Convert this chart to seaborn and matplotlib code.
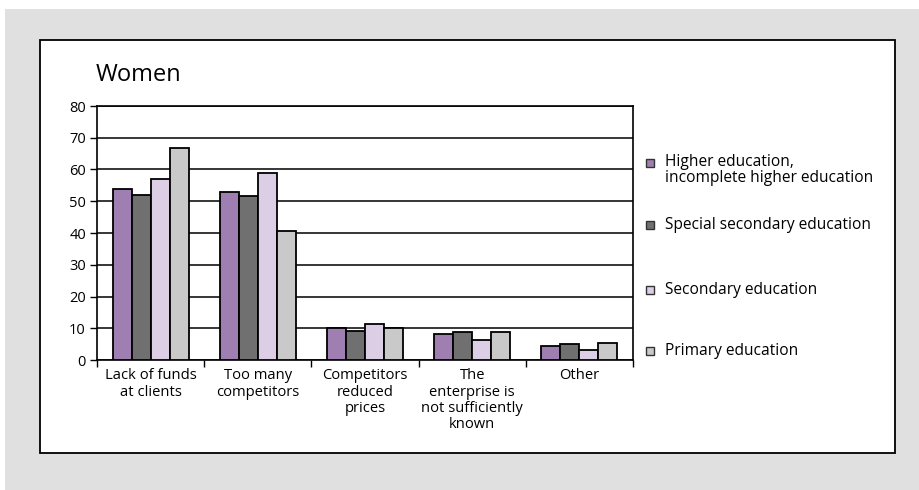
import matplotlib
matplotlib.use("Agg")
import matplotlib.pyplot as plt
from matplotlib.patches import Rectangle
import seaborn as sns
import pandas as pd

categories = [
    "Lack of funds\nat clients",
    "Too many\ncompetitors",
    "Competitors\nreduced\nprices",
    "The\nenterprise is\nnot sufficiently\nknown",
    "Other",
]
series_names = [
    "Higher education,\nincomplete higher education",
    "Special secondary education",
    "Secondary education",
    "Primary education",
]
higher = [54, 53, 10, 8.2, 4.4]
special = [52, 51.5, 9.2, 8.8, 5.1]
secondary = [57, 59, 11.4, 6.2, 3.0]
primary = [66.7, 40.5, 10, 8.8, 5.4]
y_ticks = [0, 10, 20, 30, 40, 50, 60, 70, 80]
title = "Women"

colors = ["#9f7fb1", "#707070", "#dccee4", "#c9c9c9"]

rows = []
for name, vals in zip(series_names, [higher, special, secondary, primary]):
    for cat, v in zip(categories, vals):
        rows.append({"category": cat, "group": name, "value": v})
df = pd.DataFrame(rows)

sns.set_theme(style="white")
plt.rcParams["font.family"] = ["Open Sans", "DejaVu Sans"]
plt.rcParams["text.color"] = "black"
plt.rcParams["xtick.color"] = "black"
plt.rcParams["ytick.color"] = "black"

W, H = 919, 490
fig = plt.figure(figsize=(W / 100, H / 100), dpi=100)
fig.patch.set_facecolor("#e0e0e0")


def px_rect(x0, y0, x1, y1, **kw):
    r = Rectangle((x0 / W, 1 - y1 / H), (x1 - x0) / W, (y1 - y0) / H,
                  transform=fig.transFigure, **kw)
    fig.add_artist(r)
    return r


# thin white margin on the top and left of the grey page
px_rect(-5, -5, W + 5, 9, facecolor="white", edgecolor="none", zorder=-10)
px_rect(-5, -5, 5, H + 5, facecolor="white", edgecolor="none", zorder=-10)
# white framed panel
px_rect(40, 40, 895, 453, facecolor="white", edgecolor="black", lw=1.3, zorder=-9)

left, right, top, bottom = 97, 633, 106, 360
ax = fig.add_axes([left / W, 1 - bottom / H, (right - left) / W, (bottom - top) / H])
ax.set_facecolor("white")

sns.barplot(data=df, x="category", y="value", hue="group", palette=colors,
            hue_order=series_names, order=categories, width=0.71, gap=0,
            edgecolor="black", linewidth=1.3, saturation=1, ax=ax, legend=False,
            zorder=3)

ax.set_ylim(0, 80)
ax.set_xlim(-0.5, len(categories) - 0.5)
ax.set_yticks(y_ticks)
ax.set_yticklabels([str(t) for t in y_ticks])
ax.yaxis.grid(True, color="black", lw=1.1, zorder=0)
ax.set_axisbelow(True)
ax.tick_params(axis="y", which="major", left=True, length=5, width=1, color="black",
               pad=3, labelsize=10.5, labelcolor="black")

# category labels centred under each group, ticks on group boundaries
ax.set_xticks([i - 0.5 for i in range(len(categories) + 1)])
ax.set_xticklabels([])
ax.tick_params(axis="x", which="major", bottom=True, length=5, width=1, color="black")
for i, cat in enumerate(categories):
    ax.text(i, -2.6, cat, ha="center", va="top", fontsize=10.6, linespacing=1.12,
            color="black", transform=ax.transData)
ax.set_xlabel("")
ax.set_ylabel("")

for s in ["left", "bottom", "right", "top"]:
    ax.spines[s].set_visible(True)
    ax.spines[s].set_color("black")
    ax.spines[s].set_linewidth(1.2)

fig.text(96 / W, 1 - 81 / H, title, fontsize=17, ha="left", va="baseline", color="black")

# legend entries
legend_y = [163, 225, 290, 351]
for name, c, yy in zip(series_names, colors, legend_y):
    px_rect(646, yy - 4, 654, yy + 4, facecolor=c, edgecolor="#333333", lw=1.0, zorder=5)
    fig.text(665 / W, 1 - (yy - 9 if "\n" in name else yy) / H, name, fontsize=11.2,
             ha="left", va="top" if "\n" in name else "center", linespacing=1.0,
             color="black", transform=fig.transFigure)

fig.savefig("out.png", dpi=100, facecolor=fig.get_facecolor())
